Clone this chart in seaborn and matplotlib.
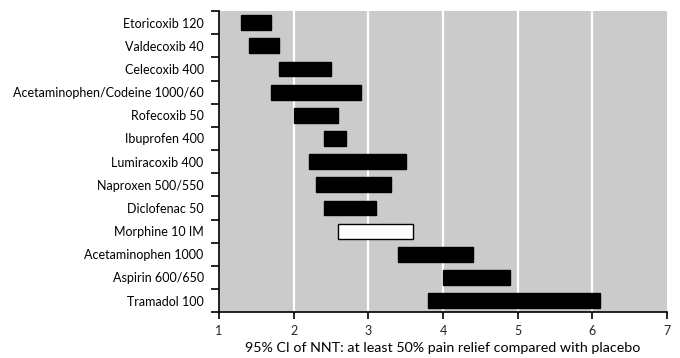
import numpy as np
import pandas as pd
import matplotlib
matplotlib.use("Agg")
import matplotlib.pyplot as plt
import seaborn as sns

# DATA - 95% CI of NNT (lower / upper bound)

drugs = [
    "Etoricoxib 120",
    "Valdecoxib 40",
    "Celecoxib 400",
    "Acetaminophen/Codeine 1000/60",
    "Rofecoxib 50",
    "Ibuprofen 400",
    "Lumiracoxib 400",
    "Naproxen 500/550",
    "Diclofenac 50",
    "Morphine 10 IM",
    "Acetaminophen 1000",
    "Aspirin 600/650",
    "Tramadol 100",
]
ci_low = [1.3, 1.4, 1.8, 1.7, 2.0, 2.4, 2.2, 2.3, 2.4, 2.6, 3.4, 4.0, 3.8]
ci_high = [1.7, 1.8, 2.5, 2.9, 2.6, 2.7, 3.5, 3.3, 3.1, 3.6, 4.4, 4.9, 6.1]
highlight = ["Morphine 10 IM"]

df = pd.DataFrame({"drug": drugs, "low": ci_low, "high": ci_high})
df["span"] = df["high"] - df["low"]

# PLOT

sns.set_theme(style="ticks")
plt.rcParams["font.family"] = ["Lato", "DejaVu Sans"]

fig = plt.figure(figsize=(6.8, 3.58), dpi=100)
ax = fig.add_axes([0.322, 0.128, 0.659, 0.841])
ax.set_facecolor("#cbcbcb")

for is_hl, fill in [(False, "black"), (True, "white")]:
    sub = df[df["drug"].isin(highlight) == is_hl]
    sns.barplot(
        data=sub,
        x="span",
        y="drug",
        order=drugs,
        left=sub["low"].to_numpy(),
        color=fill,
        saturation=1,
        width=0.64,
        edgecolor="black",
        linewidth=1.0,
        ax=ax,
        zorder=3,
    )

ax.set_xlim(1, 7)
ax.set_ylim(len(drugs) - 0.5, -0.5)

for gx in range(2, 7):
    ax.axvline(gx, color="white", linewidth=1.6, zorder=1)

# ticks at category borders, labels at centres
ax.set_yticks(np.arange(-0.5, len(drugs) + 0.5, 1))
ax.set_yticklabels([])
ax.set_yticks(np.arange(len(drugs)), minor=True)
ax.set_yticklabels(drugs, minor=True, fontsize=9, color="black")
ax.tick_params(axis="y", which="major", length=6, width=1.2, color="black", direction="out")
ax.tick_params(axis="y", which="minor", length=0, pad=11)

ax.set_xticks(range(1, 8))
ax.set_xticklabels([str(v) for v in range(1, 8)], fontsize=9)
ax.tick_params(axis="x", length=5, width=1.2, color="black", direction="out", pad=4)

ax.set_ylabel("")
ax.set_xlabel("95% CI of NNT: at least 50% pain relief compared with placebo",
              fontsize=10.3, labelpad=4, color="black")

sns.despine(ax=ax)
ax.spines["left"].set_linewidth(1.2)
ax.spines["bottom"].set_linewidth(1.2)
ax.spines["left"].set_color("black")
ax.spines["bottom"].set_color("black")

fig.savefig("out.png", dpi=100)
